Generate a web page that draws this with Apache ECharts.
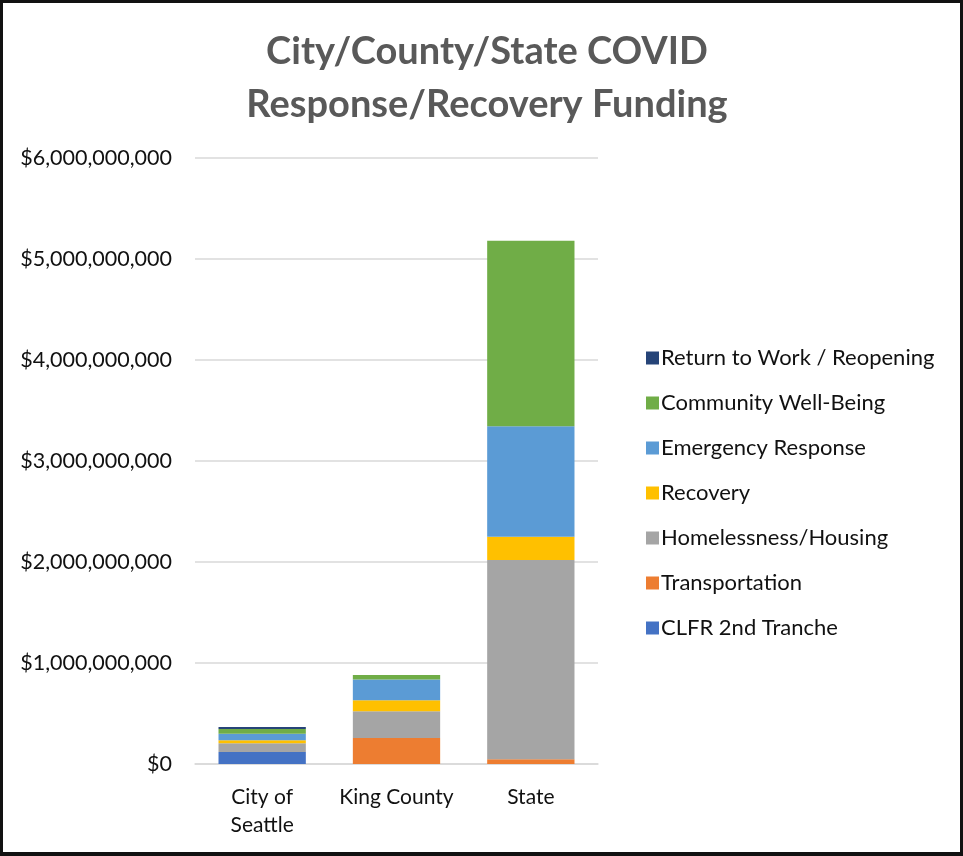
<!DOCTYPE html>
<html>
<head>
<meta charset="utf-8">
<script src="https://cdn.jsdelivr.net/npm/echarts@6/dist/echarts.min.js"></script>
<style>
html,body{margin:0;padding:0;background:#fff;}
#wrap{position:relative;width:963px;height:856px;}
#chart{position:absolute;left:0;top:0;width:963px;height:856px;}
#border{position:absolute;left:0;top:0;width:963px;height:856px;box-sizing:border-box;border:3px solid #111;border-bottom-width:4px;pointer-events:none;}
</style>
</head>
<body>
<div id="wrap"><div id="chart"></div><div id="border"></div></div>
<script>
const categories = ["City of\nSeattle", "King County", "State"];
const clfr2ndTranche   = [120000000, 0, 0];
const transportation   = [0, 257000000, 47000000];
const homelessness     = [85000000, 265000000, 1973000000];
const recovery         = [30000000, 110000000, 230000000];
const emergency        = [65000000, 205000000, 1095000000];
const communityWellBeing = [47000000, 45000000, 1835000000];
const returnToWork     = [19000000, 0, 0];
const yTicks = [0, 1000000000, 2000000000, 3000000000, 4000000000, 5000000000, 6000000000];

const seriesDefs = [
  ["CLFR 2nd Tranche", clfr2ndTranche, "#4472C4"],
  ["Transportation", transportation, "#ED7D31"],
  ["Homelessness/Housing", homelessness, "#A5A5A5"],
  ["Recovery", recovery, "#FFC000"],
  ["Emergency Response", emergency, "#5B9BD5"],
  ["Community Well-Being", communityWellBeing, "#70AD47"],
  ["Return to Work / Reopening", returnToWork, "#264478"]
];
const font = "Lato, 'Open Sans', sans-serif";
const chart = echarts.init(document.getElementById('chart'), null, {renderer:'canvas'});
chart.setOption({
  backgroundColor: '#fff',
  animation: false,
  title: {
    text: "City/County/State COVID\nResponse/Recovery Funding",
    left: 482, textAlign: 'center', top: 20,
    textStyle: {fontFamily: font, fontSize: 38, fontWeight: 'bold', color: '#595959', lineHeight: 53}
  },
  legend: {
    orient: 'vertical', left: 641, top: 342, itemGap: 23,
    itemWidth: 13, itemHeight: 13, icon: 'rect',
    data: seriesDefs.map(d => d[0]).reverse(),
    textStyle: {fontFamily: font, fontSize: 22, color: '#111', padding: [0,0,0,-3]}
  },
  grid: {left: 195, right: 365, top: 158, bottom: 92},
  xAxis: {
    type: 'category', data: categories,
    axisLine: {lineStyle: {color: '#d9d9d9', width: 1.5}},
    axisTick: {show: false},
    axisLabel: {fontFamily: font, fontSize: 21, color: '#111', margin: 19, lineHeight: 28, interval: 0}
  },
  yAxis: {
    type: 'value', min: 0, max: 6000000000, interval: 1000000000,
    axisLine: {show: false}, axisTick: {show: false},
    splitLine: {lineStyle: {color: '#d9d9d9', width: 1.5}},
    axisLabel: {fontFamily: font, fontSize: 21.5, color: '#111', margin: 23,
      formatter: v => '$' + v.toLocaleString('en-US')}
  },
  series: seriesDefs.map(d => ({
    name: d[0], type: 'bar', stack: 'total', data: d[1], barWidth: '65%',
    itemStyle: {color: d[2]}
  }))
});
</script>
</body>
</html>
